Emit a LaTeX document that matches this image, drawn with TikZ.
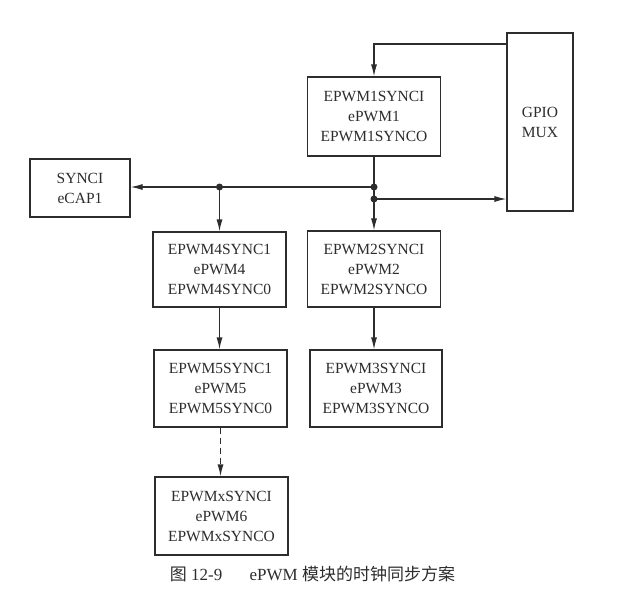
\documentclass[tikz,border=0pt]{standalone}
\usepackage{fontspec}
\setmainfont{Liberation Serif}
\newfontfamily\cjk{Noto Sans CJK SC}
\usetikzlibrary{arrows.meta}
\definecolor{ink}{RGB}{45,45,45}
\tikzset{
  blk/.style={draw=ink, line width=1.2pt, align=center, text=ink,
    font=\fontsize{15.5}{20}\selectfont, inner sep=0pt},
  conn/.style={draw=ink, line width=1.2pt, -{Latex[length=12pt,width=6pt]}},
  plain/.style={draw=ink, line width=1.2pt},
  dot/.style={circle, fill=ink, inner sep=0pt, minimum size=7pt}
}
\begin{document}
\begin{tikzpicture}[x=1pt,y=-1pt]
\useasboundingbox (0,0) rectangle (621,597);
\fill[white] (0,0) rectangle (621,597);
% boxes
\node[blk, minimum width=133pt, minimum height=79pt] (e1) at (374,116.5) {EPWM1SYNCI\\ePWM1\\EPWM1SYNCO};
\node[blk, minimum width=66pt, minimum height=178pt] (gpio) at (540,122) {GPIO\\MUX};
\node[blk, minimum width=100pt, minimum height=58pt] (cap) at (80,188) {SYNCI\\eCAP1};
\node[blk, minimum width=133pt, minimum height=75pt] (e4) at (219.5,269.5) {EPWM4SYNC1\\ePWM4\\EPWM4SYNC0};
\node[blk, minimum width=133pt, minimum height=76pt] (e2) at (374,269) {EPWM2SYNCI\\ePWM2\\EPWM2SYNCO};
\node[blk, minimum width=133pt, minimum height=77pt] (e5) at (220.5,388.5) {EPWM5SYNC1\\ePWM5\\EPWM5SYNC0};
\node[blk, minimum width=132pt, minimum height=77pt] (e3) at (376,388.5) {EPWM3SYNCI\\ePWM3\\EPWM3SYNCO};
\node[blk, minimum width=133pt, minimum height=78pt] (ex) at (221.5,516) {EPWMxSYNCI\\ePWM6\\EPWMxSYNCO};
% junctions
\node[dot] (j1) at (374,187) {};
\node[dot] (j2) at (374,199) {};
\node[dot] (j3) at (219.5,187) {};
\coordinate (gt) at (507,44);
\coordinate (tc) at (374,44);
% connectors
\draw[conn] (gt) -- (tc) -- (e1.north);
\draw[plain] (e1.south) -- (j1.center);
\draw[plain] (j1.center) -- (j2.center);
\draw[conn] (j2.center) -- (e2.north);
\draw[conn] (j1.center) -- (cap.east |- j1);
\draw[conn] (j3.center) -- (e4.north);
\draw[conn] (j2.center) -- (gpio.west |- j2);
\draw[conn] (e4.south) -- (e4.south |- e5.north);
\draw[conn] (e2.south) -- (e2.south |- e3.north);
\draw[conn, dashed, dash pattern=on 6pt off 4pt] (e5.south) -- (e5.south |- ex.north);
% caption
\node[text=ink, font=\fontsize{17}{20}\selectfont] (cap1) at (312.5,574) {{\cjk 图} 12-9\hspace{1.6em}ePWM {\cjk 模块的时钟同步方案}};
\end{tikzpicture}
\end{document}
